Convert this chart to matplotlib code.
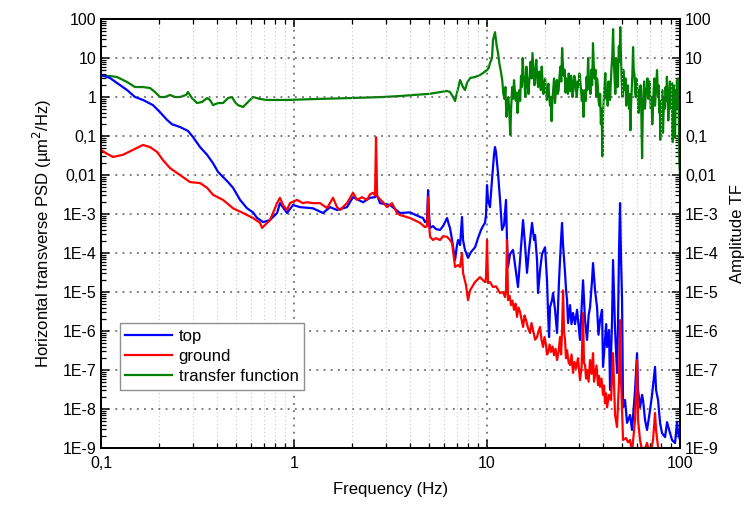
import matplotlib
matplotlib.use("Agg")
import matplotlib.pyplot as plt
from matplotlib.ticker import FixedLocator, FixedFormatter, LogLocator, NullFormatter

plt.rcParams['font.family'] = ['Liberation Sans', 'DejaVu Sans']

# ---- PSD measured on top (um^2/Hz) ----
top_freq = [0.1, 0.1113, 0.1254, 0.1364, 0.150, 0.165, 0.1859, 0.202, 0.2197, 0.2333,
            0.2567, 0.2823, 0.2997, 0.326, 0.3545, 0.3807, 0.404, 0.4288, 0.4552, 0.4832,
            0.5254, 0.5713, 0.6133, 0.644, 0.692, 0.751, 0.817, 0.846, 0.920, 0.988,
            1.074, 1.254, 1.413, 1.536, 1.670, 1.882, 2.021, 2.279, 2.477, 2.630,
            2.66, 2.790, 3.145, 3.542, 3.99, 4.50, 4.66, 4.77, 4.89, 4.95,
            5.01, 5.07, 5.25, 5.44, 5.71, 5.92, 6.06, 6.21, 6.35, 6.43,
            6.59, 6.83, 6.99, 7.08, 7.25, 7.42, 7.51, 7.69, 7.97, 8.26,
            8.67, 8.98, 9.31, 9.53, 9.76, 9.88, 10.0, 10.12, 10.36, 10.61,
            10.87, 11.0, 11.13, 11.40, 11.68, 11.96, 12.25, 12.54, 12.69, 12.85,
            13.16, 13.64, 13.97, 14.47, 14.83, 15.37, 15.74, 16.11, 16.50, 17.11,
            17.53, 17.74, 18.16, 18.38, 18.83, 19.28, 19.98, 20.46, 20.71, 20.96,
            21.21, 21.72, 21.98, 22.51, 23.06, 23.61, 24.18, 24.47, 24.77, 25.36,
            25.65, 25.98, 26.29, 26.92, 27.4, 27.90, 28.58, 29.27, 30.33, 30.7,
            31.06, 31.44, 32.20, 32.98, 33.6, 34.18, 35.00, 35.42, 36.28, 37.15,
            37.8, 38.51, 39.43, 39.91, 40.88, 41.4, 41.87, 42.87, 43.39, 44.44,
            44.97, 46.06, 47.17, 47.74, 48.31, 48.89, 49.48, 50.07, 50.67, 51.89,
            53.14, 55.08, 56.41, 58.47, 59.88, 60.60, 62.06, 63.56, 64.32, 65.88,
            67.46, 69.93, 71.62, 74.22, 75.11, 76.93, 78.78, 80.68, 83.63, 85.65,
            88.77, 90.91, 94.22, 96.49, 97.65, 100]
top_psd = [3.7, 3.07, 2.03, 1.51, 1.0, 0.84, 0.62, 0.41, 0.26, 0.20,
           0.17, 0.135, 0.094, 0.052, 0.033, 0.020, 0.012, 0.0089, 0.0066, 0.0047,
           2.3e-3, 1.4e-3, 1.1e-3, 7.9e-4, 6.2e-4, 7.0e-4, 1.06e-3, 1.9e-3, 1.06e-3, 1.7e-3,
           1.5e-3, 1.4e-3, 1.06e-3, 1.5e-3, 1.27e-3, 1.5e-3, 2.7e-3, 2.0e-3, 2.6e-3, 2.7e-3,
           3.5e-3, 1.9e-3, 1.7e-3, 1.06e-3, 1.1e-3, 8.4e-4, 7.9e-4, 6.2e-4, 7.0e-4, 4.1e-3,
           9.4e-4, 4.4e-4, 4.9e-4, 4.1e-4, 3.9e-4, 4.9e-4, 6.2e-4, 7.9e-4, 5.2e-4, 4.4e-4,
           2.15e-4, 6.6e-5, 1.6e-4, 2.15e-4, 1.6e-4, 8.4e-4, 2.15e-4, 1.2e-4, 7.5e-5, 1.06e-4,
           1.4e-4, 2.4e-4, 3.9e-4, 4.9e-4, 5.9e-4, 9.4e-4, 5.5e-3, 2.3e-3, 1.5e-3, 7.5e-3,
           0.033, 0.052, 0.039, 0.0112, 2.3e-3, 3.9e-4, 5.2e-4, 2.3e-3, 2.15e-4, 4.4e-5,
           9.4e-5, 1.2e-4, 4.9e-5, 1.34e-5, 6.6e-5, 7.0e-4, 1.6e-4, 3.1e-5, 1.2e-4, 5.9e-4,
           2.15e-4, 2.9e-4, 6.6e-5, 9.4e-6, 3.7e-5, 9.4e-5, 1.4e-4, 2.0e-5, 2.9e-6, 7.0e-7,
           4.1e-6, 6.2e-6, 9.4e-6, 3.5e-6, 8.9e-7, 2.0e-5, 2.15e-4, 5.9e-4, 1.6e-4, 3.1e-5,
           1.2e-5, 6.2e-6, 1.6e-6, 4.6e-6, 1.5e-6, 2.9e-6, 1.5e-6, 3.5e-6, 5.9e-7, 2.0e-6,
           6.2e-6, 2.0e-5, 1.9e-6, 5.9e-7, 2.5e-6, 4.1e-6, 2.0e-5, 5.5e-5, 1.1e-5, 4.1e-6,
           8.0e-7, 1.9e-6, 3.5e-6, 1.2e-7, 5.9e-7, 1.5e-6, 3.9e-7, 1.06e-6, 3.1e-8, 1.9e-6,
           6.6e-5, 1.06e-6, 8.4e-8, 1.9e-6, 1.2e-4, 1.9e-3, 6.6e-5, 6.2e-6, 1.1e-8, 1.7e-8,
           4.4e-9, 7.0e-9, 2.9e-9, 3.1e-8, 2.7e-7, 3.1e-8, 1.1e-8, 2.3e-8, 1.7e-8, 5.2e-9,
           2.9e-9, 9.4e-9, 2.3e-8, 1.2e-7, 3.1e-8, 1.7e-8, 4.4e-9, 2.4e-9, 1.9e-9, 4.6e-9,
           2.4e-9, 1.6e-9, 1.34e-9, 4.6e-9, 2.4e-9, 1.6e-9]

# ---- PSD measured on the ground (um^2/Hz) ----
ground_freq = [0.1, 0.1074, 0.1154, 0.130, 0.1464, 0.165, 0.1795, 0.1953, 0.2095, 0.228,
               0.2567, 0.289, 0.326, 0.3545, 0.3807, 0.4288, 0.4832, 0.5441, 0.6133, 0.6672,
               0.683, 0.725, 0.751, 0.778, 0.817, 0.846, 0.877, 0.920, 0.953, 1.036,
               1.113, 1.167, 1.254, 1.364, 1.482, 1.536, 1.592, 1.670, 1.731, 1.882,
               2.021, 2.120, 2.251, 2.389, 2.477, 2.567, 2.630, 2.66, 2.695, 2.723,
               2.891, 3.033, 3.219, 3.418, 3.542, 3.99, 4.50, 4.77, 4.89, 4.95,
               5.01, 5.07, 5.25, 5.44, 5.71, 5.92, 6.21, 6.43, 6.59, 6.83,
               7.08, 7.25, 7.42, 7.51, 7.78, 7.97, 8.17, 8.36, 8.67, 8.98,
               9.20, 9.53, 9.76, 9.88, 10.0, 10.12, 10.36, 10.74, 11.13, 11.68,
               12.10, 12.40, 12.54, 12.69, 12.85, 13.1, 13.32, 13.55, 13.80, 14.05,
               14.30, 14.55, 14.83, 15.1, 15.37, 15.65, 15.93, 16.3, 16.71, 17.0,
               17.32, 17.75, 18.16, 18.5, 18.83, 19.15, 19.52, 19.85, 20.22, 20.45,
               20.71, 21.1, 21.46, 21.85, 22.25, 22.65, 23.06, 23.5, 23.90, 24.2,
               24.47, 24.77, 25.05, 25.36, 25.65, 25.98, 26.45, 26.92, 27.4, 27.90,
               28.4, 28.92, 29.6, 30.33, 30.9, 31.44, 31.8, 32.20, 32.6, 32.98,
               33.6, 34.18, 34.8, 35.42, 35.85, 36.28, 36.9, 37.60, 38.05, 38.51,
               39.2, 39.91, 40.4, 40.88, 41.4, 41.87, 42.87, 43.90, 44.97, 46.06,
               47.17, 48.31, 48.89, 49.48, 50.67, 52.51, 53.78, 55.08, 56.41, 58.47,
               59.88, 60.60, 62.06, 64.32, 67.46, 69.93, 72.45, 74.22, 75.11, 76.93,
               79.73, 83.63, 88.77, 100]
ground_psd = [0.044, 0.035, 0.029, 0.033, 0.044, 0.059, 0.052, 0.039, 0.024, 0.015,
              0.010, 0.0066, 0.0062, 0.0047, 0.0031, 0.0023, 1.4e-3, 1.06e-3, 7.9e-4, 5.9e-4,
              4.4e-4, 5.9e-4, 7.0e-4, 1.06e-3, 1.9e-3, 2.6e-3, 1.7e-3, 1.27e-3, 1.9e-3, 2.3e-3,
              1.9e-3, 2.0e-3, 1.9e-3, 1.9e-3, 1.42e-3, 1.9e-3, 2.6e-3, 1.5e-3, 1.27e-3, 1.9e-3,
              3.5e-3, 2.3e-3, 2.7e-3, 2.3e-3, 3.2e-3, 3.5e-3, 3.0e-3, 0.093, 3.0e-3, 2.7e-3,
              2.0e-3, 1.5e-3, 1.9e-3, 1.06e-3, 9.4e-4, 7.9e-4, 5.9e-4, 4.6e-4, 4.9e-4, 2.7e-3,
              5.2e-4, 2.6e-4, 2.15e-4, 2.4e-4, 2.15e-4, 2.7e-4, 2.6e-4, 2.15e-4, 1.8e-4, 4.4e-5,
              4.9e-5, 4.4e-5, 1.0e-4, 3.1e-5, 1.5e-5, 6.2e-6, 1.1e-5, 1.34e-5, 1.8e-5, 2.15e-5,
              2.4e-5, 2.0e-5, 1.8e-5, 2.3e-5, 2.15e-4, 1.7e-5, 1.8e-5, 1.34e-5, 1.4e-5, 9.4e-6,
              1.0e-5, 7.4e-6, 1.1e-5, 2.15e-4, 6.2e-6, 8.0e-6, 4.6e-6, 6.0e-6, 3.5e-6, 5.0e-6,
              2.3e-6, 4.0e-6, 3.1e-6, 2.0e-6, 1.27e-6, 2.5e-6, 1.9e-6, 1.2e-6, 8.9e-7, 1.6e-6,
              1.06e-6, 6.0e-7, 7.0e-7, 1.0e-6, 1.27e-6, 6.0e-7, 3.9e-7, 7.0e-7, 4.4e-7, 2.5e-7,
              2.7e-7, 4.5e-7, 2.9e-7, 4.0e-7, 2.4e-7, 3.5e-7, 1.8e-7, 3.0e-7, 7.0e-7, 2.5e-7,
              1.0e-6, 1.1e-5, 1.0e-6, 5.9e-7, 2.0e-7, 3.2e-7, 1.6e-7, 1.34e-7, 2.5e-7, 8.4e-8,
              1.6e-7, 1.1e-7, 2.0e-7, 5.5e-8, 1.2e-7, 2.9e-6, 1.5e-7, 1.34e-7, 6.0e-8, 1.0e-7,
              5.0e-8, 1.8e-7, 8.0e-8, 2.7e-7, 5.0e-8, 7.5e-8, 1.3e-7, 4.1e-8, 7.0e-8, 3.7e-8,
              6.0e-8, 2.3e-8, 4.0e-8, 1.4e-8, 2.5e-8, 1.1e-8, 2.3e-8, 1.7e-8, 2.7e-7, 7.0e-9,
              3.45e-9, 5.5e-8, 1.9e-6, 5.5e-8, 1.6e-9, 1.8e-9, 1.4e-9, 1.6e-9, 8.0e-10, 5.2e-9,
              1.8e-7, 5.2e-9, 1.6e-9, 6.6e-10, 1.34e-9, 6.6e-10, 1.6e-9, 7.9e-9, 2.9e-9, 1.06e-9,
              4.6e-10, 3.5e-10, 2.6e-10, 2.0e-10]

# ---- amplitude of the top/ground transfer function ----
tf_freq = [0.1, 0.1113, 0.121, 0.1364, 0.150, 0.165, 0.1795, 0.1905, 0.202, 0.2143,
           0.228, 0.242, 0.2567, 0.2757, 0.2823, 0.296, 0.3143, 0.3336, 0.3545, 0.367,
           0.3807, 0.404, 0.4288, 0.4552, 0.4773, 0.4943, 0.512, 0.5441, 0.5775, 0.6133,
           0.6672, 0.7256, 0.9197, 1.316, 1.951, 2.891, 3.542, 4.137, 5.0, 6.21,
           6.43, 6.67, 6.83, 6.99, 7.25, 7.51, 7.69, 7.88, 8.17, 8.67,
           9.20, 9.53, 10.0, 10.2, 10.36, 10.61, 10.74, 11.0, 11.2, 11.4,
           11.6, 11.8, 12.0, 12.15, 12.3, 12.45, 12.6, 12.75, 12.9, 13.05,
           13.2, 13.35, 13.5, 13.65, 13.8, 13.95, 14.1, 14.25, 14.4, 14.55,
           14.7, 14.85, 15.0, 15.15, 15.3, 15.45, 15.6, 15.8, 16.0, 16.2,
           16.4, 16.6, 16.8, 17.0, 17.2, 17.4, 17.6, 17.8, 18.0, 18.2,
           18.4, 18.6, 18.8, 19.0, 19.2, 19.4, 19.6, 19.8, 20.0, 20.2,
           20.4, 20.6, 20.8, 21.0, 21.2, 21.4, 21.6, 21.8, 22.0, 22.25,
           22.5, 22.75, 23.0, 23.25, 23.5, 23.75, 24.0, 24.25, 24.5, 24.75,
           25.0, 25.25, 25.5, 25.75, 26.0, 26.25, 26.5, 26.75, 27.0, 27.25,
           27.5, 27.75, 28.0, 28.3, 28.6, 28.9, 29.2, 29.5, 29.8, 30.1,
           30.4, 30.7, 31.0, 31.3, 31.6, 31.9, 32.2, 32.5, 32.8, 33.1,
           33.4, 33.7, 34.0, 34.35, 34.7, 35.05, 35.4, 35.75, 36.1, 36.45,
           36.8, 37.15, 37.5, 37.85, 38.2, 38.55, 38.9, 39.25, 39.6, 39.95,
           40.3, 40.65, 41.0, 41.4, 41.8, 42.2, 42.6, 43.0, 43.4, 43.8,
           44.2, 44.6, 45.0, 45.4, 45.8, 46.2, 46.6, 47.0, 47.4, 47.8,
           48.2, 48.6, 49.0, 49.45, 49.9, 50.35, 50.8, 51.25, 51.7, 52.15,
           52.6, 53.05, 53.5, 53.95, 54.4, 54.85, 55.3, 55.75, 56.2, 56.65,
           57.1, 57.55, 58.0, 58.5, 59.0, 59.5, 60.0, 60.5, 61.0, 61.5,
           62.0, 62.5, 63.0, 63.6, 64.1, 64.6, 65.2, 65.8, 66.5, 67.3,
           67.8, 68.4, 68.9, 69.5, 70.0, 70.6, 71.2, 71.8, 72.4, 73.0,
           73.6, 74.2, 74.8, 75.4, 76.0, 76.5, 77.0, 77.5, 78.0, 78.5,
           79.0, 79.6, 80.3, 80.9, 81.6, 82.2, 82.9, 83.5, 84.2, 84.8,
           85.5, 86.3, 86.9, 87.5, 88.1, 88.7, 89.4, 90.1, 90.8, 91.5,
           92.2, 92.9, 93.6, 94.2, 95.0, 95.7, 96.4, 97.1, 97.8, 98.5,
           99.2, 100]
tf_amp = [3.45, 3.45, 3.26, 2.43, 1.8, 1.8, 1.7, 1.34, 1.0, 1.0,
          1.125, 1.0, 1.0, 1.125, 1.34, 0.94, 0.70, 0.745, 0.94, 0.84,
          0.62, 0.70, 0.70, 0.94, 1.0, 0.745, 0.62, 0.554, 0.745, 1.0,
          0.89, 0.84, 0.84, 0.89, 0.94, 1.0, 1.06, 1.125, 1.2, 1.43,
          1.34, 1.0, 0.79, 1.27, 2.73, 1.8, 1.51, 2.29, 3.07, 3.26,
          3.66, 4.12, 4.92, 5.5, 7.4, 10.0, 28.9, 46.0, 22.0, 13.4,
          7.0, 4.5, 2.6, 1.2, 0.9, 1.8, 0.31, 0.7, 1.0, 0.4,
          0.106, 0.6, 1.8, 0.9, 2.7, 1.4, 0.8, 1.3, 0.39, 0.9,
          1.5, 0.8, 3.5, 1.8, 10.0, 4.0, 2.5, 1.0, 6.0, 2.2,
          1.2, 3.0, 8.0, 3.0, 13.4, 5.0, 2.0, 4.5, 9.0, 3.0,
          1.8, 4.5, 3.7, 1.5, 6.0, 2.5, 1.2, 2.0, 3.0, 1.5,
          0.84, 1.6, 2.2, 1.0, 0.6, 1.0, 0.24, 0.8, 1.5, 3.0,
          0.7, 1.5, 2.73, 1.2, 1.5, 3.5, 6.0, 2.5, 18.0, 6.0,
          3.5, 5.0, 1.3, 3.0, 2.3, 1.2, 4.0, 2.0, 1.4, 3.5,
          2.5, 1.0, 1.5, 3.5, 2.8, 1.5, 1.0, 2.5, 1.8, 4.0,
          2.7, 1.5, 0.8, 1.5, 0.31, 0.9, 1.5, 0.8, 3.3, 1.5,
          10.0, 3.0, 2.5, 1.2, 5.0, 2.0, 24.0, 6.0, 3.0, 5.0,
          1.0, 3.0, 2.0, 0.8, 0.6, 1.2, 0.2, 0.5, 0.03, 0.4,
          1.0, 2.0, 4.1, 0.9, 1.5, 0.6, 2.5, 1.2, 0.84, 2.5,
          6.0, 12.0, 55.0, 8.0, 3.0, 1.2, 10.0, 4.0, 1.8, 5.0,
          20.0, 8.0, 62.0, 10.0, 2.5, 1.0, 5.0, 2.5, 1.5, 3.0,
          0.6, 1.2, 2.0, 1.0, 0.5, 1.2, 0.14, 0.6, 1.5, 4.0,
          19.0, 5.0, 4.0, 1.5, 1.0, 3.0, 2.0, 0.8, 0.39, 1.5,
          1.0, 2.0, 0.4, 0.027, 0.4, 1.2, 2.5, 0.5, 1.2, 1.8,
          3.0, 0.9, 1.5, 2.5, 1.0, 0.5, 1.0, 0.2, 0.6, 1.5,
          3.0, 0.6, 1.2, 2.5, 4.9, 2.0, 1.0, 2.0, 0.4, 0.8,
          0.08, 0.3, 0.5, 1.5, 0.12, 0.4, 1.0, 0.5, 1.8, 0.8,
          3.3, 1.0, 0.25, 0.6, 1.2, 2.5, 0.5, 1.0, 2.3, 0.07,
          1.0, 2.0, 0.5, 0.09, 1.5, 0.5, 2.7, 1.0, 3.0, 0.5,
          0.02, 0.01]

x_ticks = [0.1, 1, 10, 100]
x_labels = ['0,1', '1', '10', '100']
y_ticks = [1e2, 1e1, 1e0, 1e-1, 1e-2, 1e-3, 1e-4, 1e-5, 1e-6, 1e-7, 1e-8, 1e-9]
y_labels = ['100', '10', '1', '0,1', '0,01', '1E-3', '1E-4', '1E-5', '1E-6', '1E-7', '1E-8', '1E-9']

fig = plt.figure(figsize=(7.52, 5.07), dpi=100)
ax = fig.add_axes([0.1343, 0.1164, 0.7700, 0.8461])
ax2 = ax.twinx()

for a in (ax, ax2):
    a.set_xscale('log')
    a.set_yscale('log')
    a.set_xlim(0.1, 100)
    a.set_ylim(1e-9, 100)

l_top, = ax.plot(top_freq, top_psd, color='#0000ff', lw=1.6, label='top')
l_gnd, = ax.plot(ground_freq, ground_psd, color='#ff0000', lw=1.6, label='ground')
l_tf, = ax2.plot(tf_freq, tf_amp, color='#008000', lw=1.6, label='transfer function')

# ticks and labels
ax.xaxis.set_major_locator(FixedLocator(x_ticks))
ax.xaxis.set_major_formatter(FixedFormatter(x_labels))
ax.xaxis.set_minor_locator(LogLocator(base=10, subs=range(2, 10), numticks=20))
ax.xaxis.set_minor_formatter(NullFormatter())
for a in (ax, ax2):
    a.yaxis.set_major_locator(FixedLocator(y_ticks))
    a.yaxis.set_major_formatter(FixedFormatter(y_labels))
    a.yaxis.set_minor_locator(LogLocator(base=10, subs=range(2, 10), numticks=30))
    a.yaxis.set_minor_formatter(NullFormatter())
    a.tick_params(which='major', direction='in', length=6, width=1.1, labelsize=11.5, colors='black')
    a.tick_params(which='minor', direction='in', length=3.5, width=0.9)
    for s in a.spines.values():
        s.set_linewidth(1.3)
ax.tick_params(which='both', top=True, right=False)
ax.tick_params(axis='x', which='major', pad=6)
ax2.tick_params(which='both', left=False, right=True)

# grid
ax.grid(True, which='major', axis='both', color='#555555', linestyle=(0, (1.2, 3.5)), linewidth=1.1)
ax.grid(True, which='minor', axis='x', color='#c8c8c8', linestyle=(0, (1, 2.5)), linewidth=0.8)
ax.set_axisbelow(True)

ax.set_xlabel('Frequency (Hz)', fontsize=12, labelpad=8)
ax.set_ylabel('Horizontal transverse PSD (µm$^2$/Hz)', fontsize=12, labelpad=6)
ax2.set_ylabel('Amplitude TF', fontsize=12, labelpad=8)

leg = ax.legend(handles=[l_top, l_gnd, l_tf], loc='lower left', bbox_to_anchor=(0.032, 0.135),
                fontsize=12, frameon=True, fancybox=False, framealpha=1, edgecolor='#909090',
                handlelength=2.8, handletextpad=0.4, borderpad=0.35, labelspacing=0.3,
                borderaxespad=0)
leg.get_frame().set_linewidth(1.0)
leg.set_zorder(10)
ax.set_zorder(ax2.get_zorder() + 1)
ax.patch.set_visible(False)

fig.savefig('out.png', dpi=100)
